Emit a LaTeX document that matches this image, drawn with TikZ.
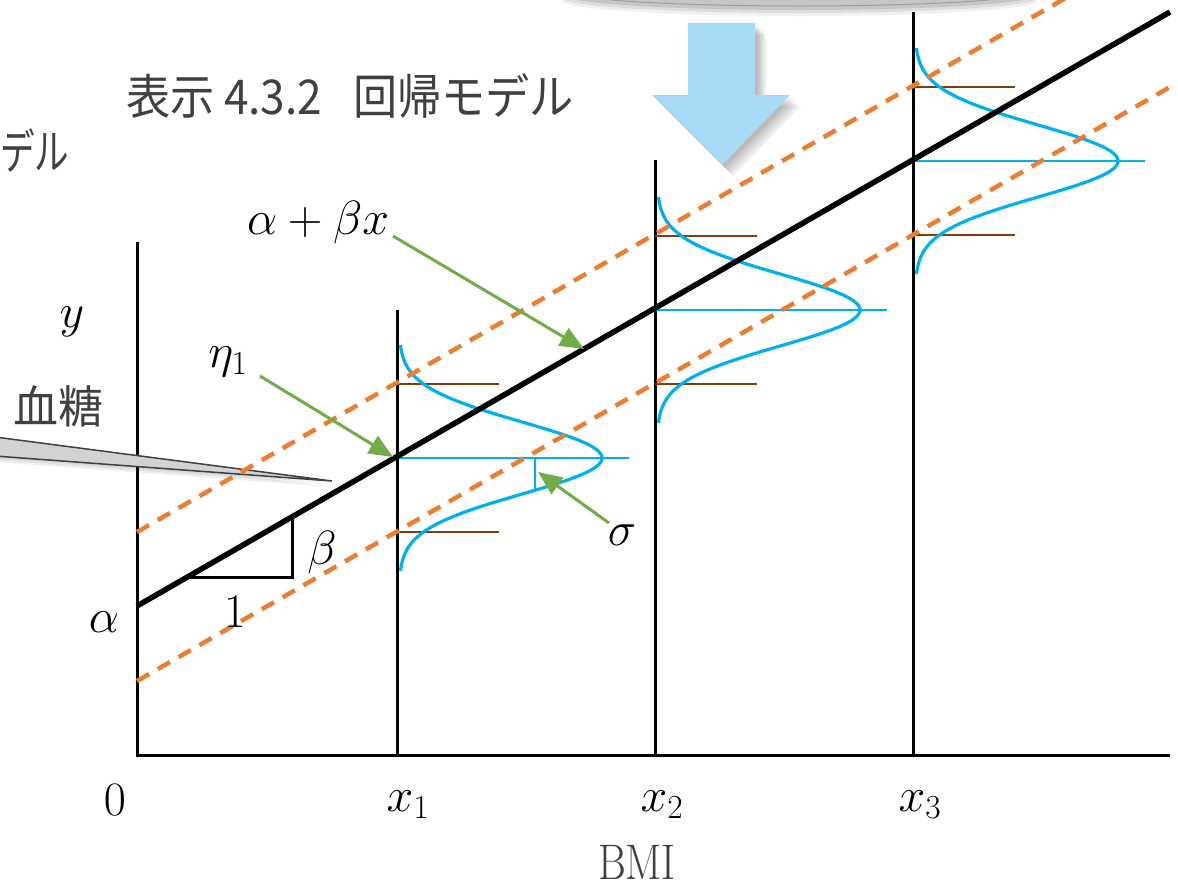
\RequirePackage{fix-cm}
\documentclass[tikz,border=0pt]{standalone}
\usepackage{graphicx}
\usepackage{fontspec}
\newfontfamily\cjk{Noto Sans CJK JP}
\usetikzlibrary{arrows.meta}
\definecolor{orng}{RGB}{237,125,49}
\definecolor{brn}{RGB}{132,60,12}
\definecolor{sky}{RGB}{0,176,240}
\definecolor{grn}{RGB}{112,173,71}
\definecolor{lblue}{RGB}{166,218,245}
\definecolor{txtgray}{RGB}{64,64,64}
\newcommand{\cnd}[2][0.85]{\scalebox{#1}[1]{#2}}
\begin{document}
\begin{tikzpicture}[x=1pt,y=-1pt,
  axisline/.style={line width=3pt,black},
  regline/.style={line width=5.5pt,black},
  band/.style={line width=4.5pt,orng,dash pattern=on 14pt off 10pt},
  bell/.style={line width=3.2pt,sky},
  meanline/.style={line width=2.2pt,sky},
  sdline/.style={line width=2.6pt,brn},
  pointer/.style={line width=3pt,grn,-{Triangle[length=24pt,width=20pt]}},
  mlabel/.style={font=\fontsize{48}{54}\selectfont, inner sep=0pt},
  jlabel/.style={font=\fontsize{48}{54}\selectfont\cjk, text=txtgray, inner sep=0pt}]
\useasboundingbox (0,0) rectangle (1178,887);
\clip (0,0) rectangle (1178,887);

% top gray shape (cut off)
\foreach \o/\a in {10/0.06,7/0.08,4/0.1}{
  \fill[black,opacity=\a] (800,-9+\o) ellipse [x radius=237, y radius=15];}
\fill[gray!45] (800,-9) ellipse [x radius=235, y radius=15];
\draw[gray!75,line width=1pt] (800,-9) ellipse [x radius=235, y radius=15];

% big blue arrow with soft shadow
\foreach \o in {3,5,7,9,11}{
  \fill[black,opacity=0.06] (688+\o,23+\o) -- (755+\o,23+\o) -- (755+\o,95+\o) -- (790+\o,95+\o)
     -- (722+\o,165+\o) -- (652+\o,95+\o) -- (688+\o,95+\o) -- cycle;}
\fill[lblue] (688,23) -- (755,23) -- (755,95) -- (790,95) -- (722,165) -- (652,95) -- (688,95) -- cycle;

% texts
\node[jlabel] (title) at (350,96) {\cnd[0.92]{表示 4.3.2\hspace{0.7em}回帰モデル}};
\node[jlabel,anchor=west] (cut) at (0,150) {\cnd[0.72]{デル}};
\node[jlabel,font=\fontsize{45}{50}\selectfont\cjk] (bt) at (58,406) {血糖};

% axes and vertical lines
\coordinate (O) at (137,755);
\coordinate (Ytop) at (137,242);
\coordinate (Xend) at (1170,755);
\coordinate (X1b) at (397,755); \coordinate (X1t) at (397,310);
\coordinate (X2b) at (655,755); \coordinate (X2t) at (655,160);
\coordinate (X3b) at (913,755); \coordinate (X3t) at (913,12);
\draw[axisline] (Ytop) -- (O) -- (Xend);
\draw[axisline] (X1b) -- (X1t);
\draw[axisline] (X2b) -- (X2t);
\draw[axisline] (X3b) -- (X3t);

% callout tail
\foreach \o in {2,4,6}{
  \fill[black,opacity=0.06] (-5,437+\o) -- (332,481+\o) -- (-5,456+\o) -- cycle;}
\filldraw[fill=gray!35,draw=txtgray,line width=1.5pt,line join=miter] (-5,437) -- (332,481) -- (-5,456);

% normal curves
\foreach \xi/\ci in {397/458, 655/310, 913/161}{
  \draw[meanline] (\xi,\ci) -- (\xi+232,\ci);
  \draw[sdline] (\xi,\ci-74) -- (\xi+102,\ci-74);
  \draw[sdline] (\xi,\ci+74) -- (\xi+102,\ci+74);
  \draw[bell] plot[domain=-113:113, samples=90, smooth] ({\xi+2+203*exp(-0.5*(\x/36)^2)}, {\ci+\x});
}
\coordinate (sgTop) at (535,458);
\coordinate (sgBot) at (535,489);
\draw[line width=2.6pt,sky] (sgTop) -- (sgBot);

% dashed bands
\coordinate (U0) at (137,532); \coordinate (U1) at (1170,-62);
\coordinate (L0) at (137,681); \coordinate (L1) at (1170,87);
\draw[band] (U0) -- (U1);
\draw[band] (L0) -- (L1);

% regression line
\coordinate (R0) at (137,606); \coordinate (R1) at (1170,12);
\draw[regline] (R0) -- (R1);

% slope triangle
\coordinate (T1) at (190,577); \coordinate (T2) at (292,577); \coordinate (T3) at (292,519);
\draw[axisline] (T1) -- (T2) -- (T3);

% math labels
\node[mlabel] (lab) at (318,222) {$\alpha+\beta x$};
\node[mlabel] (leta) at (228,362) {$\eta_1$};
\node[mlabel] (ly) at (72,322) {$y$};
\node[mlabel] (lalpha) at (104,622) {$\alpha$};
\node[mlabel] (lbeta) at (322,552) {$\beta$};
\node[mlabel] (lone) at (235,612) {$1$};
\node[mlabel] (lsig) at (622,535) {$\sigma$};
\node[mlabel] (l0) at (115,800) {$0$};
\node[mlabel] (lx1) at (408,805) {$x_1$};
\node[mlabel] (lx2) at (662,805) {$x_2$};
\node[mlabel] (lx3) at (920,805) {$x_3$};
\node[mlabel,text=txtgray,font=\fontsize{50}{56}\selectfont] (lbmi) at (637,862) {\cnd{BMI}};

% green pointers
\coordinate (pa1) at (393,236); \coordinate (pa2) at (584,349);
\coordinate (pe1) at (260,376); \coordinate (pe2) at (393,457);
\coordinate (ps1) at (609,523); \coordinate (ps2) at (538,472);
\draw[pointer] (pa1) -- (pa2);
\draw[pointer] (pe1) -- (pe2);
\draw[pointer] (ps1) -- (ps2);
\end{tikzpicture}
\end{document}
